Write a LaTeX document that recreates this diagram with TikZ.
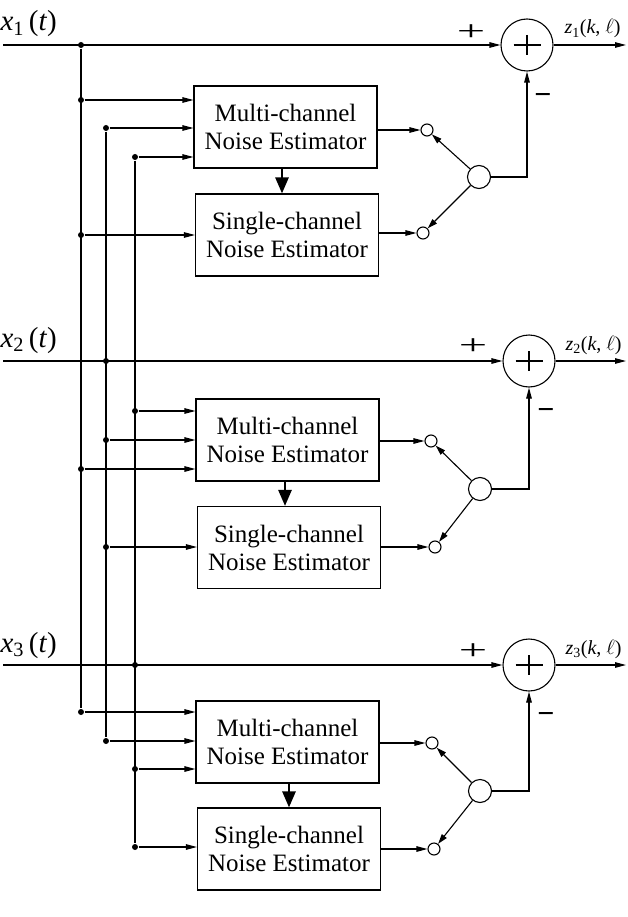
\documentclass[tikz,border=0pt]{standalone}
\usepackage{fontspec}
\setmainfont{Liberation Serif}
\usetikzlibrary{arrows.meta,calc}
\begin{document}
\begin{tikzpicture}[x=1pt,y=-1pt,
  line width=1.1pt,
  arr/.style={-{Triangle[length=11pt,width=5.5pt]}},
  thickarr/.style={line width=2.6pt,-{Triangle[length=16pt,width=13pt]}},
  box/.style={draw,rectangle,minimum width=183pt,minimum height=82pt,align=center,font=\fontsize{25}{28}\selectfont,inner sep=0pt},
  dot/.style={circle,fill,inner sep=0pt,minimum size=6pt},
  sel/.style={circle,draw,inner sep=0pt,minimum size=23pt},
  pin/.style={circle,draw,inner sep=0pt,minimum size=12pt},
  sumc/.style={circle,draw,inner sep=0pt,minimum size=52pt},
  inlab/.style={anchor=base west,inner sep=0pt,font=\fontsize{29}{29}\selectfont},
  outlab/.style={anchor=base west,inner sep=0pt,font=\fontsize{20}{20}\selectfont},
  pluslab/.style={inner sep=0pt,font=\fontsize{28}{28}\selectfont},
  minuslab/.style={inner sep=0pt,font=\bfseries\fontsize{30}{30}\selectfont}
]
\useasboundingbox (0,0) rectangle (628,917);

% bus dots
\node[dot] (d1a) at (81,45) {};
\node[dot] (d1b) at (81,100) {};
\node[dot] (d1c) at (81,235) {};
\node[dot] (d1d) at (81,469) {};
\node[dot] (d1e) at (81,712) {};
\node[dot] (d2a) at (106,128) {};
\node[dot] (d2b) at (106,361) {};
\node[dot] (d2c) at (106,440) {};
\node[dot] (d2d) at (106,547) {};
\node[dot] (d2e) at (106,741) {};
\node[dot] (d3a) at (135,157) {};
\node[dot] (d3b) at (135,411) {};
\node[dot] (d3c) at (135,665) {};
\node[dot] (d3d) at (135,769) {};
\node[dot] (d3e) at (135,847) {};

\draw (d1a) -- (d1e);
\draw (d2a) -- (d2e);
\draw (d3a) -- (d3e);

% ---------- stage 1 ----------
\coordinate (x1s) at (3,45);
\node[inlab] (lx1) at (0,31) {\textit{x}\textsubscript{1}\,(\textit{t})};
\node[sumc] (sum1) at (527,45) {};
\draw[line width=1.6pt] ($(sum1.center)+(-13.5,0)$) -- ($(sum1.center)+(13.5,0)$);
\draw[line width=1.6pt] ($(sum1.center)+(0,-10)$) -- ($(sum1.center)+(0,10)$);
\coordinate (o1) at (626,45);
\node[outlab] (lz1) at (564,34) {\textit{z}\textsubscript{1}(\textit{k}, $\ell$)};
\node[pluslab] (pl1) at (471,33) {\scalebox{1.8}[1]{+}};
\node[minuslab] (mi1) at (543,99) {−};
\node[box] (m1) at (285.5,127) {Multi-channel\\Noise Estimator};
\node[box] (s1) at (287,235) {Single-channel\\Noise Estimator};
\node[pin] (p1a) at (427,130) {};
\node[pin] (p1b) at (423,233) {};
\node[sel] (q1) at (479,177) {};
\draw[arr] (x1s) -- (sum1);
\draw[arr] (sum1) -- (o1);
\draw[arr] (d1b) -- (d1b -| m1.west);
\draw[arr] (d2a) -- (d2a -| m1.west);
\draw[arr] (d3a) -- (d3a -| m1.west);
\draw[arr] (d1c) -- (d1c -| s1.west);
\draw[thickarr] (m1.south -| 282,0) -- (s1.north -| 282,0);
\draw[arr] (m1.east |- p1a) -- (p1a);
\draw[arr] (s1.east |- p1b) -- (p1b);
\draw[-{Triangle[length=10pt,width=6pt]}] (q1) -- (p1a);
\draw[-{Triangle[length=10pt,width=6pt]}] (q1) -- (p1b);
\draw[arr] (q1) -| (sum1);

% ---------- stage 2 ----------
\coordinate (x2s) at (3,361);
\node[inlab] (lx2) at (0,347) {\textit{x}\textsubscript{2}\,(\textit{t})};
\node[sumc] (sum2) at (529,361) {};
\draw[line width=1.6pt] ($(sum2.center)+(-13.5,0)$) -- ($(sum2.center)+(13.5,0)$);
\draw[line width=1.6pt] ($(sum2.center)+(0,-10)$) -- ($(sum2.center)+(0,10)$);
\coordinate (o2) at (626,361);
\node[outlab] (lz2) at (565,350) {\textit{z}\textsubscript{2}(\textit{k}, $\ell$)};
\node[pluslab] (pl2) at (473,347) {\scalebox{1.8}[1]{+}};
\node[minuslab] (mi2) at (546,414) {−};
\node[box] (m2) at (287.5,440) {Multi-channel\\Noise Estimator};
\node[box] (s2) at (289,547.5) {Single-channel\\Noise Estimator};
\node[pin] (p2a) at (431,441) {};
\node[pin] (p2b) at (435,547) {};
\node[sel] (q2) at (480,489) {};
\draw[arr] (x2s) -- (sum2);
\draw[arr] (sum2) -- (o2);
\draw[arr] (d3b) -- (d3b -| m2.west);
\draw[arr] (d2c) -- (d2c -| m2.west);
\draw[arr] (d1d) -- (d1d -| m2.west);
\draw[arr] (d2d) -- (d2d -| s2.west);
\draw[thickarr] (m2.south -| 285,0) -- (s2.north -| 285,0);
\draw[arr] (m2.east |- p2a) -- (p2a);
\draw[arr] (s2.east |- p2b) -- (p2b);
\draw[-{Triangle[length=10pt,width=6pt]}] (q2) -- (p2a);
\draw[-{Triangle[length=10pt,width=6pt]}] (q2) -- (p2b);
\draw[arr] (q2) -| (sum2);

% ---------- stage 3 ----------
\coordinate (x3s) at (3,665);
\node[inlab] (lx3) at (0,652) {\textit{x}\textsubscript{3}\,(\textit{t})};
\node[sumc] (sum3) at (529,665) {};
\draw[line width=1.6pt] ($(sum3.center)+(-13.5,0)$) -- ($(sum3.center)+(13.5,0)$);
\draw[line width=1.6pt] ($(sum3.center)+(0,-10)$) -- ($(sum3.center)+(0,10)$);
\coordinate (o3) at (626,665);
\node[outlab] (lz3) at (565,654) {\textit{z}\textsubscript{3}(\textit{k}, $\ell$)};
\node[pluslab] (pl3) at (473,652) {\scalebox{1.8}[1]{+}};
\node[minuslab] (mi3) at (546,718) {−};
\node[box] (m3) at (287.5,742) {Multi-channel\\Noise Estimator};
\node[box] (s3) at (289,849) {Single-channel\\Noise Estimator};
\node[pin] (p3a) at (432,743) {};
\node[pin] (p3b) at (434,849) {};
\node[sel] (q3) at (480,791) {};
\draw[arr] (x3s) -- (sum3);
\draw[arr] (sum3) -- (o3);
\draw[arr] (d1e) -- (d1e -| m3.west);
\draw[arr] (d2e) -- (d2e -| m3.west);
\draw[arr] (d3d) -- (d3d -| m3.west);
\draw[arr] (d3e) -- (d3e -| s3.west);
\draw[thickarr] (m3.south -| 289,0) -- (s3.north -| 289,0);
\draw[arr] (m3.east |- p3a) -- (p3a);
\draw[arr] (s3.east |- p3b) -- (p3b);
\draw[-{Triangle[length=10pt,width=6pt]}] (q3) -- (p3a);
\draw[-{Triangle[length=10pt,width=6pt]}] (q3) -- (p3b);
\draw[arr] (q3) -| (sum3);
\end{tikzpicture}
\end{document}
